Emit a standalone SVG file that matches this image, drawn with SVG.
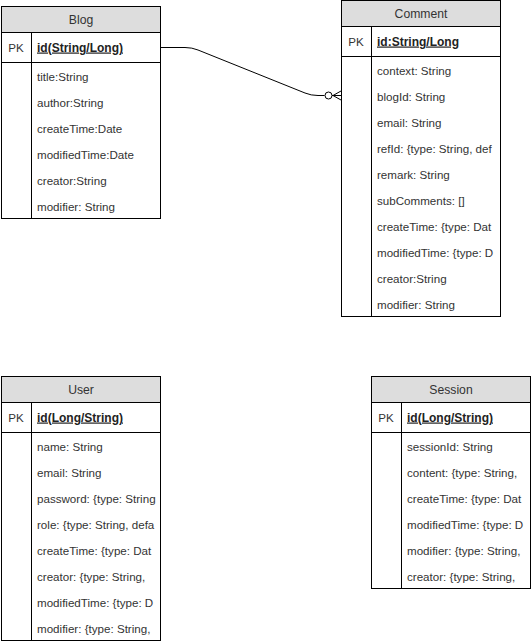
<svg xmlns="http://www.w3.org/2000/svg" width="531" height="642" viewBox="0 0 531 642">
  <style>
    .box { fill: #ffffff; stroke: #000000; stroke-width: 1; }
    .head { fill: #dddddd; stroke: #000000; stroke-width: 1; }
    .sep { stroke: #000000; stroke-width: 1; fill: none; }
    .title { font-family: "Liberation Sans", Arial, sans-serif; font-size: 12.2px; fill: #333333; text-anchor: middle; }
    .pk { font-family: "Liberation Sans", Arial, sans-serif; font-size: 11.6px; fill: #333333; text-anchor: middle; }
    .key { font-family: "Liberation Sans", Arial, sans-serif; font-size: 12px; font-weight: bold; fill: #222222; text-decoration: underline; }
    .field { font-family: "Liberation Sans", Arial, sans-serif; font-size: 11.6px; fill: #333333; }
    .edge { fill: none; stroke: #000000; stroke-width: 1; }
  </style>
  <defs>
    <clipPath id="clip-blog"><rect x="31" y="62" width="128" height="157"/></clipPath>
    <clipPath id="clip-comment"><rect x="371" y="56" width="128" height="261"/></clipPath>
    <clipPath id="clip-user"><rect x="31" y="432" width="128" height="209"/></clipPath>
    <clipPath id="clip-session"><rect x="401" y="432" width="128" height="157"/></clipPath>
  </defs>

  <rect width="531" height="642" fill="#ffffff"/>

  <!-- Blog table -->
  <g id="blog">
    <rect class="box" x="1.5" y="6.5" width="159" height="212"/>
    <rect class="head" x="1.5" y="6.5" width="159" height="26"/>
    <line class="sep" x1="1.5" y1="62.5" x2="160.5" y2="62.5"/>
    <line class="sep" x1="31.5" y1="32.5" x2="31.5" y2="218.5"/>
    <text class="title" x="81" y="24">Blog</text>
    <text class="pk" x="16" y="51.5">PK</text>
    <text class="key" x="37" y="51.5">id(String/Long)</text>
    <g class="field" clip-path="url(#clip-blog)">
      <text x="37" y="81">title:String</text>
      <text x="37" y="107">author:String</text>
      <text x="37" y="133">createTime:Date</text>
      <text x="37" y="159">modifiedTime:Date</text>
      <text x="37" y="185">creator:String</text>
      <text x="37" y="211">modifier: String</text>
    </g>
  </g>

  <!-- Comment table -->
  <g id="comment">
    <rect class="box" x="341.5" y="0.5" width="159" height="316"/>
    <rect class="head" x="341.5" y="0.5" width="159" height="26"/>
    <line class="sep" x1="341.5" y1="56.5" x2="500.5" y2="56.5"/>
    <line class="sep" x1="371.5" y1="26.5" x2="371.5" y2="316.5"/>
    <text class="title" x="421" y="18">Comment</text>
    <text class="pk" x="356" y="45.5">PK</text>
    <text class="key" x="377" y="45.5">id:String/Long</text>
    <g class="field" clip-path="url(#clip-comment)">
      <text x="377" y="75">context: String</text>
      <text x="377" y="101">blogId: String</text>
      <text x="377" y="127">email: String</text>
      <text x="377" y="153">refId: {type: String, def</text>
      <text x="377" y="179">remark: String</text>
      <text x="377" y="205">subComments: []</text>
      <text x="377" y="231">createTime: {type: Dat</text>
      <text x="377" y="257">modifiedTime: {type: D</text>
      <text x="377" y="283">creator:String</text>
      <text x="377" y="309">modifier: String</text>
    </g>
  </g>

  <!-- User table -->
  <g id="user">
    <rect class="box" x="1.5" y="376.5" width="159" height="264"/>
    <rect class="head" x="1.5" y="376.5" width="159" height="26"/>
    <line class="sep" x1="1.5" y1="432.5" x2="160.5" y2="432.5"/>
    <line class="sep" x1="31.5" y1="402.5" x2="31.5" y2="640.5"/>
    <text class="title" x="81" y="394">User</text>
    <text class="pk" x="16" y="421.5">PK</text>
    <text class="key" x="37" y="421.5">id(Long/String)</text>
    <g class="field" clip-path="url(#clip-user)">
      <text x="37" y="451">name: String</text>
      <text x="37" y="477">email: String</text>
      <text x="37" y="503">password: {type: String</text>
      <text x="37" y="529">role: {type: String, defa</text>
      <text x="37" y="555">createTime: {type: Dat</text>
      <text x="37" y="581">creator: {type: String,</text>
      <text x="37" y="607">modifiedTime: {type: D</text>
      <text x="37" y="633">modifier: {type: String,</text>
    </g>
  </g>

  <!-- Session table -->
  <g id="session">
    <rect class="box" x="371.5" y="376.5" width="159" height="212"/>
    <rect class="head" x="371.5" y="376.5" width="159" height="26"/>
    <line class="sep" x1="371.5" y1="432.5" x2="530.5" y2="432.5"/>
    <line class="sep" x1="401.5" y1="402.5" x2="401.5" y2="588.5"/>
    <text class="title" x="451" y="394">Session</text>
    <text class="pk" x="386" y="421.5">PK</text>
    <text class="key" x="407" y="421.5">id(Long/String)</text>
    <g class="field" clip-path="url(#clip-session)">
      <text x="407" y="451">sessionId: String</text>
      <text x="407" y="477">content: {type: String,</text>
      <text x="407" y="503">createTime: {type: Dat</text>
      <text x="407" y="529">modifiedTime: {type: D</text>
      <text x="407" y="555">modifier: {type: String,</text>
      <text x="407" y="581">creator: {type: String,</text>
    </g>
  </g>

  <!-- Connectors: Blog 1 — 0..* Comment -->
  <g id="connectors">
    <path class="edge" d="M160.5,47.5 L185,47.5 Q192,47.5 198,50 L305,93 Q311,95.5 318,95.5 L324.5,95.5"/>
    <circle class="edge" cx="328.5" cy="95.5" r="3.5" fill="#ffffff"/>
    <path class="edge" d="M332,95.5 L341,95.5 M333,95.5 L341,91 M333,95.5 L341,100"/>
  </g>
</svg>
